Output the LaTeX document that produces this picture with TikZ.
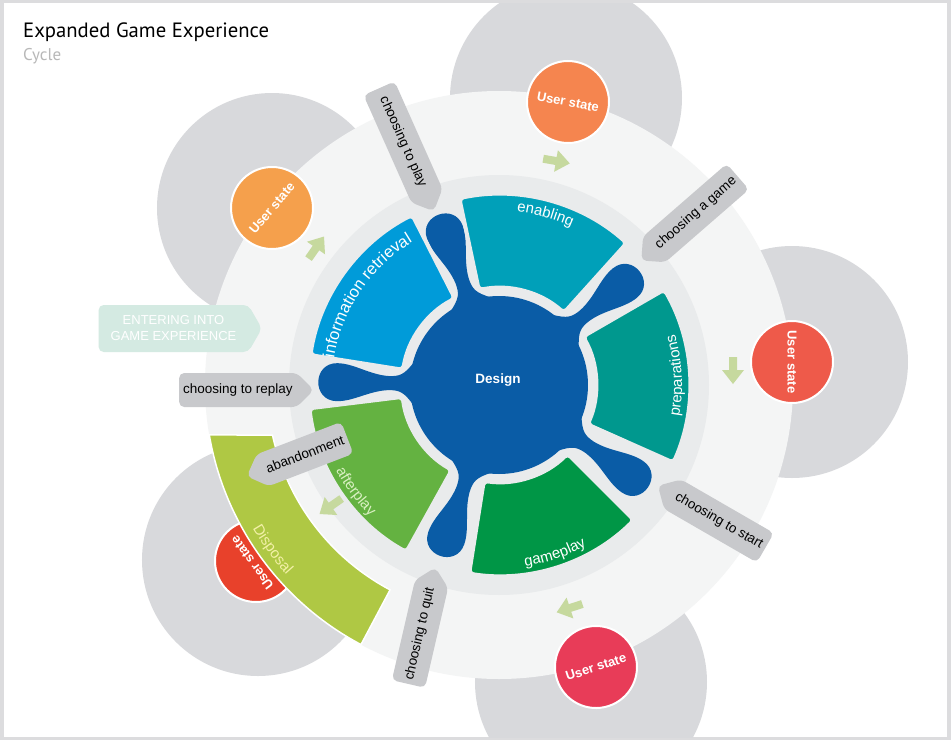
\documentclass[tikz,border=0pt]{standalone}
\usepackage{fontspec}
\setmainfont{Liberation Sans}
\newfontfamily\ptsans{PT Sans}
\usetikzlibrary{shapes.symbols,decorations.text}

\definecolor{framec}{HTML}{DCDCDE}
\definecolor{discc}{HTML}{D8D9DC}
\definecolor{palec}{HTML}{F4F5F5}
\definecolor{ringc}{HTML}{E9EBEC}
\definecolor{tagc}{HTML}{C8C9CC}
\definecolor{entc}{HTML}{D4EAE2}
\definecolor{designc}{HTML}{0A5CA6}
\definecolor{infoc}{HTML}{009BD9}
\definecolor{enabc}{HTML}{00A0B9}
\definecolor{prepc}{HTML}{00988E}
\definecolor{gamec}{HTML}{009646}
\definecolor{aftc}{HTML}{64B241}
\definecolor{dispc}{HTML}{AFC844}
\definecolor{arrc}{HTML}{C6D99E}
\definecolor{usrA}{HTML}{F5A04C}
\definecolor{usrB}{HTML}{F5854F}
\definecolor{usrC}{HTML}{EE5A4A}
\definecolor{usrD}{HTML}{E83C58}
\definecolor{usrE}{HTML}{E8412B}
\definecolor{afttxt}{HTML}{D9F0C2}
\definecolor{disptxt}{HTML}{F3F1A8}
\definecolor{cyclec}{HTML}{B8B8B8}

\newcommand\secfnt{\fontsize{15}{18}\selectfont}
\newcommand\infofnt{\fontsize{16.5}{19}\selectfont}
\newcommand\tagfnt{\fontsize{13.5}{16}\selectfont}
\newcommand\usfnt{\bfseries\fontsize{13}{15}\selectfont}

\begin{document}
\begin{tikzpicture}[x=1pt,y=1pt,
  ustate/.style={circle, minimum size=82pt, inner sep=0pt, draw=white, line width=2pt, text=white, font=\usfnt},
  tagbox/.style={shape=signal, signal pointer angle=90, fill=tagc, rounded corners=5pt, minimum height=34pt, inner xsep=4pt, inner ysep=0pt, font=\tagfnt, text=black},
  secbox/.style={draw=ringc, line width=4pt, rounded corners=4pt},
  garrow/.pic={\fill[arrc] (-13,-4) -- (0,-4) -- (0,-11) -- (14,0) -- (0,11) -- (0,4) -- (-13,4) -- cycle;}
]
\useasboundingbox (-499,-355) rectangle (452,385);
\fill[framec] (-499,-355) rectangle (452,385);
\fill[white] (-495,-352) rectangle (448,382);

% grey discs
\begin{scope}
\clip (-495,-352) rectangle (448,382);
\fill[discc] (-227,177) circle[radius=115];
\fill[discc] (67,287) circle[radius=116];
\fill[discc] (293,23) circle[radius=116];
\fill[discc] (92,-297) circle[radius=116];
\fill[discc] (-241,-175) circle[radius=116];
\end{scope}

% pale circle and ring
\fill[palec] (0,0) circle[radius=294];
\fill[ringc] (0,0) circle[radius=210];

% petals and design
\foreach \a in {109.5,39,-34.5,-109,179}{
  \fill[designc, rotate=\a] (85,-22) .. controls (95,-8) and (100,-7) .. (110,-7)
    .. controls (130,-8) and (145,-19) .. (162,-19)
    .. controls (187,-19) and (187,19) .. (162,19)
    .. controls (145,19) and (130,8) .. (110,7)
    .. controls (100,7) and (95,8) .. (85,22) -- cycle;
}
\fill[designc] (0,0) circle[radius=89];
\node[font=\bfseries\fontsize{13.5}{16}\selectfont, text=white] (design) at (-1,5) {Design};

% sectors
\foreach \c/\col in {144/infoc, 75/enabc, 3/prepc, -72/gamec, -146/aftc}{
  \filldraw[secbox, fill=\col] ({\c-27}:97) arc[start angle={\c-27}, end angle={\c+27}, radius=97]
    -- ({\c+27}:191) arc[start angle={\c+27}, end angle={\c-27}, radius=191] -- cycle;
}

% sector labels
\path[decorate, decoration={text along path, text align=center, text={|\infofnt\color{white}|information retrieval}}]
  (191:167) arc[start angle=191, end angle=101, radius=167];
\path[decorate, decoration={text along path, text align=center, text={|\secfnt\color{white}|enabling}}]
  (99.8:174) arc[start angle=99.8, end angle=49.8, radius=174];
\path[decorate, decoration={text along path, text align=center, text={|\secfnt\color{white}|preparations}}]
  (-25:183) arc[start angle=-25, end angle=31, radius=183];
\path[decorate, decoration={text along path, text align=center, text={|\secfnt\color{white}|gameplay}}]
  (-96.6:183) arc[start angle=-96.6, end angle=-46.6, radius=183];
\path[decorate, decoration={text along path, text align=center, text={|\secfnt\color{afttxt}|afterplay}}]
  (-168.4:184) arc[start angle=-168.4, end angle=-118.4, radius=184];

% user states
\node[ustate, fill=usrA, rotate=50] (us1) at (-227,177) {User state};
\node[ustate, fill=usrB, rotate=-11] (us2) at (69,283) {User state};
\node[ustate, fill=usrC, rotate=-90] (us3) at (293,23) {User state};
\node[ustate, fill=usrD, rotate=18] (us4) at (97,-282) {User state};
\node[ustate, fill=usrE] (us5) at (-243,-176) {};

% disposal band
\filldraw[fill=dispc, draw=white, line width=1.5pt] (189.79:294) arc[start angle=189.79, end angle=242, radius=294]
  -- (242:232) arc[start angle=242, end angle=192.45, radius=232] -- cycle;
\node[text=white, font=\usfnt, rotate=126, inner sep=0pt] (us5text) at (-247,-178) {User state};
\path[decorate, decoration={text along path, text align=center, text={|\secfnt\color{disptxt}|Disposal}}]
  (-162:285) arc[start angle=-162, end angle=-126, radius=285];

% green arrows
\path (-183,137) pic[rotate=55]{garrow};
\path (57,224) pic[rotate=-10]{garrow};
\path (234,15) pic[rotate=-90]{garrow};
\path (71,-223) pic[rotate=198]{garrow};
\path (-168,-121) pic[rotate=215]{garrow};

% tags
\node[tagbox, signal to=east, rotate=-66, inner xsep=10pt] (tplay) at (-96,243) {choosing to play};
\node[tagbox, signal to=west, rotate=41] (tgame) at (197,172) {choosing a game};
\node[tagbox, signal to=west, rotate=-30] (tstart) at (220,-136) {choosing to start};
\node[tagbox, signal to=east, rotate=77] (tquit) at (-79,-249) {choosing to quit};
\node[tagbox, signal to=east] (treplay) at (-261,-5) {choosing to replay};
\node[tagbox, signal to=west, rotate=21] (taband) at (-194,-69) {abandonment};
\node[shape=signal, signal to=east, signal pointer angle=120, fill=entc, rounded corners=5pt,
  minimum height=47pt, inner xsep=12pt, inner ysep=0pt, align=center, text=white,
  font=\fontsize{13}{16}\selectfont] (enter) at (-325.5,56.5) {ENTERING INTO\\GAME EXPERIENCE};

% title
\node[anchor=base west, inner sep=0pt, font=\ptsans\fontsize{20.7}{24}\selectfont] (title) at (-476,348) {Expanded Game Experience};
\node[anchor=base west, inner sep=0pt, font=\ptsans\fontsize{17}{20}\selectfont, text=cyclec] (subtitle) at (-476,325) {Cycle};
\end{tikzpicture}
\end{document}
